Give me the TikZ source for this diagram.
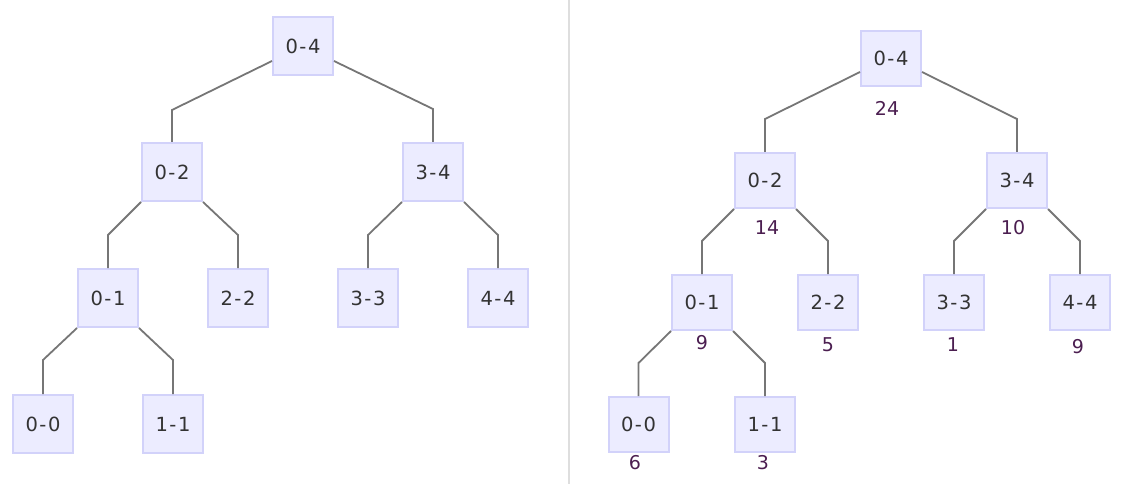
\documentclass[tikz,border=0pt]{standalone}
\usepackage{fontspec}
\setmainfont{DejaVu Sans}
\definecolor{boxfill}{RGB}{236,236,255}
\definecolor{boxline}{RGB}{210,210,250}
\definecolor{edgecol}{RGB}{118,118,118}
\definecolor{txtcol}{RGB}{51,51,51}
\definecolor{lblcol}{RGB}{75,30,80}
\definecolor{divcol}{RGB}{222,222,222}
\newcommand\myrange[2]{#1\kern1.5pt-\kern1.5pt#2}
\begin{document}
\begin{tikzpicture}[x=1pt,y=-1pt,
  tbox/.style={draw=boxline,fill=boxfill,line width=2pt,minimum width=60pt,minimum height=58pt,inner sep=0pt,text=txtcol,font=\fontsize{19.5}{22}\selectfont},
  rbox/.style={tbox,minimum height=55pt},
  numlbl/.style={text=lblcol,inner sep=0pt,font=\fontsize{19}{22}\selectfont},
  edge/.style={draw=edgecol,line width=1.8pt}]
\useasboundingbox (0,0) rectangle (1122,484);
% divider
\coordinate (dtop) at (569,0);
\coordinate (dbot) at (569,484);
\draw[divcol,line width=1.5pt] (dtop) -- (dbot);
% left tree
\node[tbox] (L04) at (303,46) {\myrange04};
\node[tbox] (L02) at (172,172) {\myrange02};
\node[tbox] (L34) at (433,172) {\myrange34};
\node[tbox] (L01) at (108,298) {\myrange01};
\node[tbox] (L22) at (238,298) {\myrange22};
\node[tbox] (L33) at (368,298) {\myrange33};
\node[tbox] (L44) at (498,298) {\myrange44};
\node[tbox] (L00) at (43,424) {\myrange00};
\node[tbox] (L11) at (173,424) {\myrange11};
\draw[edge] ([yshift=-15pt]L04.west) -- ([yshift=32pt]L02.north) -- (L02.north);
\draw[edge] ([yshift=-15pt]L04.east) -- ([yshift=33pt]L34.north) -- (L34.north);
\draw[edge] (L02.south west) -- ([yshift=33pt]L01.north) -- (L01.north);
\draw[edge] (L02.south east) -- ([yshift=33pt]L22.north) -- (L22.north);
\draw[edge] (L34.south west) -- ([yshift=33pt]L33.north) -- (L33.north);
\draw[edge] (L34.south east) -- ([yshift=33pt]L44.north) -- (L44.north);
\draw[edge] (L01.south west) -- ([yshift=34pt]L00.north) -- (L00.north);
\draw[edge] (L01.south east) -- ([yshift=34pt]L11.north) -- (L11.north);
% right tree
\node[rbox] (R04) at (891,58.5) {\myrange04};
\node[rbox] (R02) at (765,180.5) {\myrange02};
\node[rbox] (R34) at (1017,180.5) {\myrange34};
\node[rbox] (R01) at (702,302.5) {\myrange01};
\node[rbox] (R22) at (828,302.5) {\myrange22};
\node[rbox] (R33) at (954,302.5) {\myrange33};
\node[rbox] (R44) at (1080,302.5) {\myrange44};
\node[rbox] (R00) at (638.5,424.5) {\myrange00};
\node[rbox] (R11) at (765,424.5) {\myrange11};
\draw[edge] ([yshift=-13.5pt]R04.west) -- ([yshift=33pt]R02.north) -- (R02.north);
\draw[edge] ([yshift=-13.5pt]R04.east) -- ([yshift=33pt]R34.north) -- (R34.north);
\draw[edge] (R02.south west) -- ([yshift=33pt]R01.north) -- (R01.north);
\draw[edge] (R02.south east) -- ([yshift=33pt]R22.north) -- (R22.north);
\draw[edge] (R34.south west) -- ([yshift=33pt]R33.north) -- (R33.north);
\draw[edge] (R34.south east) -- ([yshift=33pt]R44.north) -- (R44.north);
\draw[edge] (R01.south west) -- ([yshift=33pt]R00.north) -- (R00.north);
\draw[edge] (R01.south east) -- ([yshift=33pt]R11.north) -- (R11.north);
% sums
\node[numlbl] (s04) at (887,108) {24};
\node[numlbl] (s02) at (767,228) {14};
\node[numlbl] (s34) at (1013,228) {10};
\node[numlbl] (s01) at (702,343) {9};
\node[numlbl] (s22) at (828,345) {5};
\node[numlbl] (s33) at (953,345) {1};
\node[numlbl] (s44) at (1078,347) {9};
\node[numlbl] (s00) at (635,463) {6};
\node[numlbl] (s11) at (763,463) {3};
\end{tikzpicture}
\end{document}
